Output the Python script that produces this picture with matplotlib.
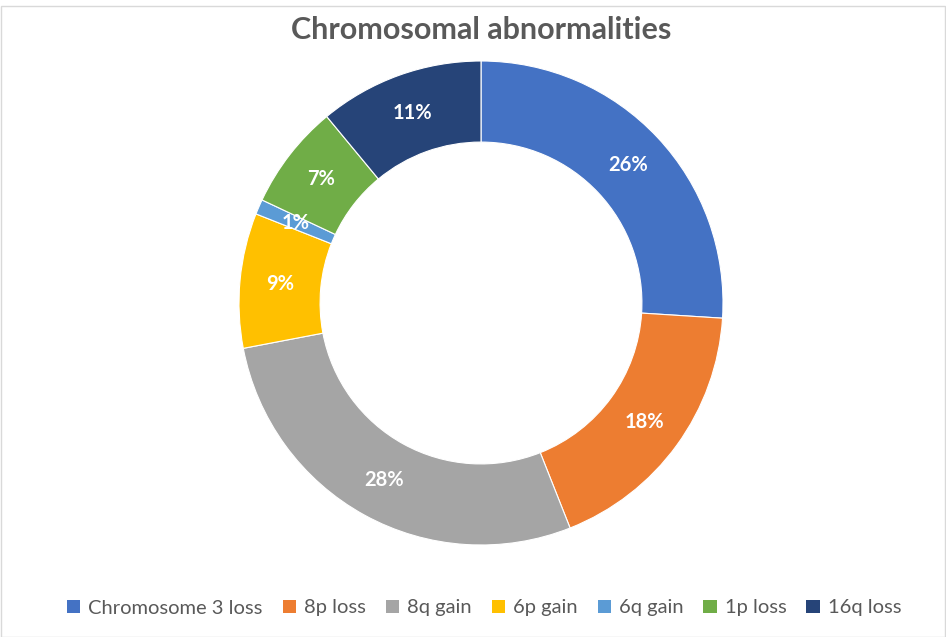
import matplotlib
matplotlib.use("Agg")
import matplotlib.pyplot as plt
from matplotlib.patches import Patch, Rectangle

categories = ["Chromosome 3 loss", "8p loss", "8q gain", "6p gain", "6q gain", "1p loss", "16q loss"]
values = [26, 18, 28, 9, 1, 7, 11]
labels = ["26%", "18%", "28%", "9%", "1%", "7%", "11%"]
colors = ["#4472C4", "#ED7D31", "#A5A5A5", "#FFC000", "#5B9BD5", "#70AD47", "#264478"]

plt.rcParams['font.family'] = ['Lato', 'DejaVu Sans']

W, H = 946, 637
fig = plt.figure(figsize=(W / 100, H / 100), dpi=100)
fig.patch.set_facecolor("white")

# chart-area border
fig.add_artist(Rectangle((0.5 / W, 0.5 / H), 1 - 2 / W, 1 - 6 / H, transform=fig.transFigure,
                         fill=False, edgecolor="#D9D9D9", linewidth=1))

cx, cy, R = 481, 303, 242
ax = fig.add_axes([(cx - R) / W, (H - cy - R) / H, 2 * R / W, 2 * R / H])
wedges, texts = ax.pie(values, colors=colors, startangle=90, counterclock=False,
                       radius=1, labels=labels, labeldistance=0.835,
                       wedgeprops=dict(width=0.335, edgecolor="white", linewidth=0.8),
                       textprops=dict(color="white", fontsize=14.5, fontweight="bold"))
for t in texts:
    t.set_ha("center")
    t.set_va("center")
ax.set_xlim(-1, 1)
ax.set_ylim(-1, 1)
ax.set_aspect("equal")
ax.axis("off")

fig.text(481 / W, 1 - 30 / H, "Chromosomal abnormalities", ha="center", va="center",
         fontsize=22, fontweight="bold", color="#595959")

handles = [Patch(facecolor=c, edgecolor="none") for c in colors]
fig.legend(handles, categories, loc="center", bbox_to_anchor=(484 / W, 1 - 608 / H),
           ncol=len(categories), frameon=False, fontsize=14.5, labelcolor="#595959",
           handlelength=0.65, handleheight=0.65, handletextpad=0.4, columnspacing=1.0)

fig.savefig("out.png", dpi=100, facecolor="white")
